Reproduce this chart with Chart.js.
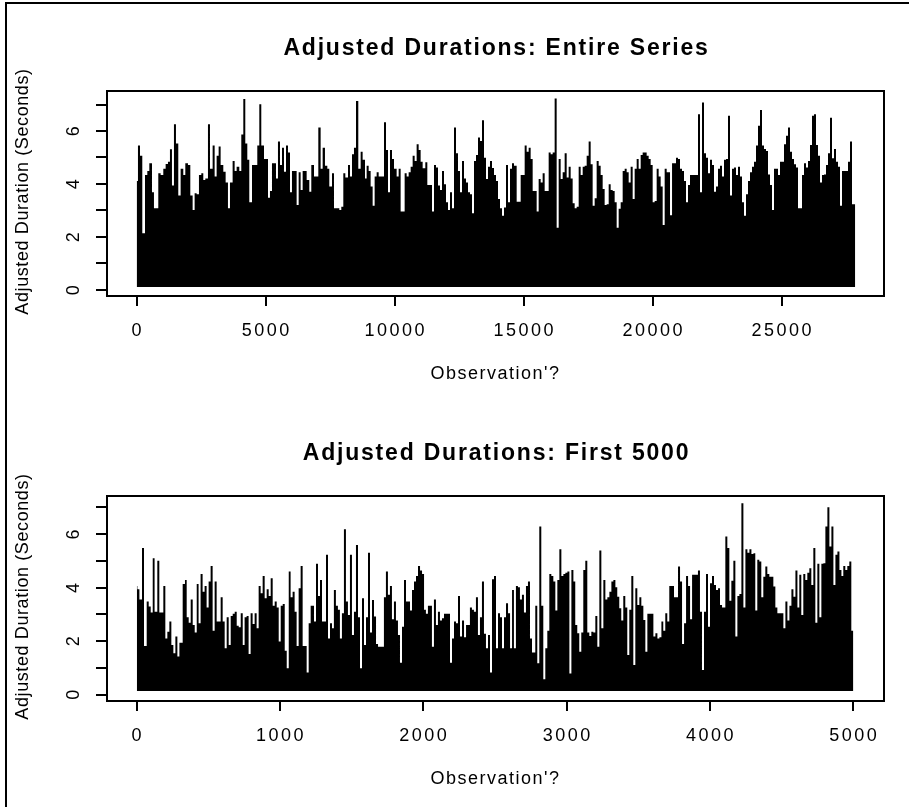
<!DOCTYPE html>
<html>
<head>
<meta charset="utf-8">
<script src="https://cdn.jsdelivr.net/npm/chart.js@4.4.1/dist/chart.umd.min.js"></script>
<style>
  html, body { margin: 0; padding: 0; background: #fff; }
  #wrap { position: relative; width: 909px; height: 807px; overflow: hidden; background: #fff; }
  #frame { position: absolute; left: 5px; top: 2px; width: 920px; height: 820px;
           border-left: 2px solid #000; border-top: 2px solid #000; }
  canvas { position: absolute; left: 0; }
  #c1 { top: 0; }
  #c2 { top: 404px; }
</style>
</head>
<body>
<div id="wrap">
  <div id="frame"></div>
  <canvas id="c1" width="909" height="404"></canvas>
  <canvas id="c2" width="909" height="403"></canvas>
</div>
<script>
// ---- Data (upper envelope of the duration series) ----
const topTitle = "Adjusted Durations: Entire Series";
const bottomTitle = "Adjusted Durations: First 5000";
const xLabel = "Observation'?";
const yLabel = "Adjusted Duration (Seconds)";

const topXTicks = [0, 5000, 10000, 15000, 20000, 25000];
const bottomXTicks = [0, 1000, 2000, 3000, 4000, 5000];
const yTicks = [0, 1, 2, 3, 4, 5, 6, 7];
const yTickLabels = [0, 2, 4, 6];

const topFloor = 0.11;
const bottomFloor = 0.13;

const topObs = [1,50,128,218,322,412,490,593,670,838,929,1032,1123,1213,1290,1368,1445,1523,1613,1704,1807,1885,1988,2079,2169,2246,2324,2414,2505,2582,2660,2763,2841,2944,3022,3099,3177,3254,3358,3448,3538,3616,3719,3797,3874,3978,4055,4133,4210,4288,4365,4469,4675,4753,4830,4934,5089,5166,5244,5399,5476,5554,5632,5709,5787,5864,5942,6019,6200,6278,6355,6433,6588,6691,6768,6872,7040,7130,7208,7298,7389,7466,7570,7647,7854,7931,8009,8087,8190,8267,8345,8422,8500,8590,8681,8758,8849,8913,8991,9068,9146,9223,9301,9379,9585,9663,9740,9818,9895,9973,10076,10154,10231,10386,10464,10541,10619,10696,10774,10851,10929,11006,11084,11187,11265,11446,11523,11601,11678,11756,11833,11911,11988,12066,12143,12221,12298,12376,12453,12531,12609,12686,12764,12841,12919,12996,13074,13151,13229,13306,13384,13461,13539,13616,13694,13772,13849,13927,14004,14082,14159,14237,14314,14392,14469,14547,14624,14728,14883,15038,15115,15193,15270,15348,15503,15580,15658,15735,15813,15968,16045,16123,16200,16278,16356,16433,16511,16588,16666,16743,16821,16898,16976,17053,17131,17208,17286,17363,17441,17518,17596,17673,17751,17828,17906,17983,18061,18138,18216,18294,18371,18449,18526,18604,18681,18759,18836,18914,18991,19069,19146,19224,19301,19379,19456,19534,19611,19766,19844,19921,19999,20076,20154,20231,20309,20387,20464,20542,20671,20750,20904,20981,21059,21136,21214,21291,21369,21446,21756,21834,21911,21989,22066,22144,22221,22299,22376,22454,22531,22609,22687,22764,22842,22919,22997,23074,23152,23229,23307,23384,23462,23539,23617,23694,23772,23849,23927,24004,24082,24159,24237,24314,24392,24469,24547,24624,24702,24857,24935,25090,25167,25245,25322,25400,25477,25555,25632,25787,25865,25942,26020,26097,26175,26252,26330,26407,26485,26563,26640,26718,26795,26873,26950,27028,27105,27183,27260,27338,27570,27648,27725,27850];
const topDur = [4.11,5.45,5.07,2.14,4.34,4.49,4.78,3.69,3.08,4.40,4.34,4.57,4.75,4.84,5.31,3.94,6.25,5.53,3.56,4.57,4.34,4.78,4.72,3.56,3.02,3.65,3.61,4.34,4.40,4.15,4.21,6.25,4.57,5.45,4.28,5.07,5.41,4.72,4.46,4.06,3.08,4.06,4.87,4.49,4.65,4.49,5.87,7.21,5.53,4.91,3.31,4.72,5.45,7.01,5.45,4.94,3.48,3.73,4.78,4.21,5.60,4.72,5.37,4.46,5.45,5.19,3.69,4.49,3.21,4.44,3.77,4.49,4.15,3.71,4.72,4.28,6.13,4.57,5.37,4.69,4.57,3.90,4.40,3.08,3.02,3.14,4.40,4.24,4.72,4.28,5.12,5.37,7.13,4.57,5.22,4.91,4.21,4.69,4.49,3.90,3.18,4.28,4.44,4.28,6.33,5.28,3.69,5.28,4.94,4.57,4.28,4.57,2.96,4.40,4.28,4.44,4.65,5.07,4.87,5.50,5.28,4.84,4.59,4.82,3.96,2.96,4.72,4.62,3.94,3.77,4.49,3.99,3.31,3.02,3.69,3.08,6.13,5.16,4.49,3.69,4.87,4.21,4.06,3.69,3.61,2.89,4.87,5.09,5.75,5.62,6.41,4.99,4.19,4.65,4.87,4.60,4.34,4.11,3.43,3.08,2.80,3.11,4.72,3.31,4.57,4.78,4.69,3.33,4.34,5.45,5.22,5.37,4.94,3.73,2.96,4.19,4.06,4.40,3.73,5.19,5.12,5.19,7.23,2.35,4.94,4.19,4.44,5.16,4.24,4.65,4.21,3.27,3.08,3.14,4.65,4.34,4.65,4.69,5.07,5.60,4.74,3.18,3.46,4.87,4.69,4.34,3.81,3.21,3.23,3.99,3.77,3.73,3.31,2.35,3.06,3.31,4.49,4.57,4.44,4.06,4.65,3.43,4.57,4.94,4.57,5.09,5.19,5.07,4.94,4.72,3.31,3.36,4.57,4.28,3.90,2.45,4.57,4.44,2.82,4.78,4.99,4.94,4.57,4.49,4.11,3.31,3.96,4.34,6.63,3.69,7.08,5.16,4.99,4.40,4.91,4.72,3.71,3.90,4.57,4.69,4.28,4.91,4.94,6.58,3.56,4.57,4.62,4.34,4.65,4.28,3.31,2.80,3.61,4.11,4.44,4.65,4.84,5.45,6.20,6.79,5.45,5.32,5.24,4.36,3.96,3.02,4.57,4.34,4.84,5.50,5.82,6.13,5.22,4.94,4.74,4.62,3.08,4.34,4.78,4.62,4.87,5.47,6.58,6.63,5.47,5.07,4.06,4.34,4.36,4.72,5.16,6.50,4.97,5.32,4.84,4.65,3.18,4.49,4.84,5.60,3.23,3.23];

const bottomObs = [1,5,19,37,51,70,84,98,112,125,144,158,186,200,214,228,242,256,270,284,298,321,337,349,363,377,391,405,419,432,446,460,474,488,502,516,530,544,558,586,600,614,628,642,656,670,684,698,712,726,740,753,767,781,795,809,823,837,851,865,879,893,907,921,935,949,963,977,991,1005,1019,1033,1047,1061,1074,1088,1102,1116,1130,1144,1158,1186,1200,1214,1237,1251,1265,1279,1293,1321,1335,1349,1363,1376,1390,1404,1418,1432,1446,1460,1474,1488,1502,1516,1530,1544,1558,1572,1586,1600,1614,1628,1642,1656,1670,1684,1725,1739,1753,1767,1781,1795,1809,1823,1837,1851,1865,1879,1907,1921,1935,1949,1963,1977,1991,2005,2018,2032,2060,2074,2088,2102,2116,2130,2144,2186,2200,2214,2228,2242,2256,2270,2284,2298,2325,2339,2353,2367,2381,2395,2409,2423,2437,2451,2465,2479,2493,2507,2521,2535,2549,2563,2577,2591,2605,2619,2632,2646,2660,2674,2688,2702,2716,2730,2744,2758,2781,2795,2809,2823,2837,2851,2865,2879,2893,2907,2921,2935,2949,2963,2977,2991,3005,3019,3033,3047,3060,3074,3088,3102,3116,3130,3144,3158,3172,3186,3200,3214,3228,3242,3256,3270,3284,3298,3312,3326,3340,3353,3367,3381,3395,3409,3423,3437,3451,3465,3479,3493,3507,3521,3535,3549,3563,3605,3619,3633,3647,3661,3674,3688,3702,3716,3749,3777,3791,3805,3819,3833,3847,3861,3875,3916,3930,3944,3958,3972,3986,4000,4014,4028,4042,4056,4070,4084,4107,4121,4135,4149,4163,4177,4191,4205,4219,4233,4247,4261,4275,4289,4303,4316,4330,4344,4358,4372,4386,4400,4414,4442,4456,4470,4512,4526,4540,4554,4568,4582,4596,4610,4623,4637,4651,4665,4679,4693,4707,4721,4735,4749,4763,4777,4791,4805,4819,4833,4847,4861,4875,4889,4903,4917,4930,4944,4958,4972,4986,5000];
const bottomDur = [4.06,3.94,3.56,5.48,1.82,3.48,3.29,3.07,5.10,3.10,5.01,3.07,4.06,2.10,2.35,2.73,1.85,1.54,2.17,1.42,1.94,4.14,4.29,2.89,2.69,3.56,2.60,2.32,4.14,2.67,4.51,3.85,4.06,3.26,4.23,4.81,2.39,4.23,2.73,3.64,2.73,1.73,2.89,1.85,2.94,3.02,3.10,2.57,2.52,3.04,1.85,2.89,2.94,1.52,3.04,2.64,3.04,2.48,4.06,3.79,4.44,3.60,3.94,3.69,4.35,3.32,3.48,3.26,1.98,3.32,3.39,1.64,0.98,4.60,3.64,3.85,3.10,1.82,3.98,4.81,1.82,0.82,2.67,3.32,2.73,4.89,3.69,4.29,2.73,5.23,2.10,2.67,2.48,3.91,3.32,3.17,2.10,3.04,6.19,3.48,2.98,5.23,2.23,3.10,5.60,2.89,0.98,3.60,1.85,2.89,5.31,2.32,3.54,2.92,1.89,1.79,3.64,4.60,3.73,4.06,2.82,3.48,2.77,2.23,1.19,2.54,4.29,3.48,3.14,3.91,4.23,4.44,4.81,4.64,4.51,3.17,3.02,3.32,1.79,3.56,2.60,3.10,2.77,2.85,3.02,1.19,2.10,2.73,2.67,3.69,2.17,2.77,2.14,2.60,3.26,3.17,3.10,3.64,2.23,2.89,4.23,2.27,1.73,2.23,0.82,4.31,4.44,1.73,3.04,2.89,1.73,2.89,3.42,3.04,1.73,3.91,1.73,4.06,4.01,3.56,3.73,3.07,4.06,4.23,2.10,1.57,3.32,1.17,6.29,3.32,0.57,1.73,2.39,4.51,4.44,4.23,3.14,4.29,5.44,4.44,4.51,4.56,4.60,0.79,4.66,4.23,2.60,2.29,1.60,2.32,4.66,5.01,2.32,2.19,2.35,2.32,2.94,1.79,5.39,2.48,4.29,3.56,3.64,3.85,4.23,4.29,4.01,3.66,3.23,2.77,3.69,3.26,1.48,3.17,4.44,1.10,3.98,3.35,3.64,3.32,2.79,1.60,3.02,2.17,2.29,2.10,2.14,2.73,2.39,3.04,2.73,4.06,3.64,4.79,4.23,1.89,2.67,4.44,4.06,2.82,4.48,4.64,3.10,0.92,3.10,4.51,2.54,4.16,4.44,4.10,3.91,3.98,3.35,3.26,5.91,5.48,3.51,4.26,5.01,2.17,3.69,3.76,7.16,3.26,5.44,5.31,5.44,5.26,5.29,3.14,5.04,4.98,3.64,4.41,4.79,4.51,4.41,4.04,3.26,3.04,2.48,3.48,2.77,3.32,3.94,3.66,4.64,3.26,4.48,2.98,4.51,4.29,4.56,4.73,4.10,5.48,2.69,4.89,2.89,4.89,4.91,6.29,7.01,5.54,6.29,4.10,5.23,5.35,4.66,4.44,4.81,4.66,4.81,4.98,2.39,2.39];

// ---- R-style axes, box and labels drawn through the chart's own scales ----
const rStyle = {
  id: 'rStyle',
  afterDraw(chart, args, o) {
    const { ctx, chartArea: a, scales: { x, y } } = chart;
    ctx.save();
    ctx.strokeStyle = '#000';
    ctx.fillStyle = '#000';
    ctx.lineWidth = 2;
    ctx.strokeRect(a.left, a.top, a.right - a.left, a.bottom - a.top);
    ctx.beginPath();
    o.yTicks.forEach(v => {
      const py = Math.round(y.getPixelForValue(v));
      ctx.moveTo(a.left - 11, py); ctx.lineTo(a.left, py);
    });
    o.xTicks.forEach(v => {
      const px = Math.round(x.getPixelForValue(v));
      ctx.moveTo(px, a.bottom); ctx.lineTo(px, a.bottom + 10);
    });
    ctx.stroke();

    const cx = (a.left + a.right) / 2;
    const cy = (a.top + a.bottom) / 2;
    ctx.textAlign = 'center';
    ctx.textBaseline = 'middle';

    // x tick labels
    ctx.font = '18px "Liberation Sans", Arial, sans-serif';
    ctx.letterSpacing = '2.5px';
    o.xTicks.forEach(v => {
      ctx.fillText(String(v), x.getPixelForValue(v) + 1, a.bottom + 35);
    });
    // y tick labels (rotated, parallel to axis)
    o.yTickLabels.forEach(v => {
      ctx.save();
      ctx.translate(a.left - 33, y.getPixelForValue(v));
      ctx.rotate(-Math.PI / 2);
      ctx.fillText(String(v), 1, 0);
      ctx.restore();
    });
    // x axis title
    ctx.letterSpacing = '1.5px';
    ctx.fillText(o.xLabel, cx, a.bottom + 78);
    // y axis title
    ctx.letterSpacing = '0.6px';
    ctx.save();
    ctx.translate(23, cy - 2);
    ctx.rotate(-Math.PI / 2);
    ctx.fillText(o.yLabel, 0, 0);
    ctx.restore();
    // main title
    ctx.font = 'bold 23px "Liberation Sans", Arial, sans-serif';
    ctx.letterSpacing = '1.8px';
    ctx.fillText(o.title, cx + 1, a.top - 42);
    ctx.restore();
  }
};

function makeChart(id, obs, dur, floor, xmin, xmax, ymin, ymax, xTicks, title, pad) {
  const pts = obs.map((v, i) => ({ x: v, y: dur[i] }));
  return new Chart(document.getElementById(id), {
    type: 'line',
    data: {
      datasets: [{
        data: pts,
        stepped: true,
        fill: { value: floor },
        backgroundColor: '#000',
        borderColor: '#000',
        borderWidth: 0,
        pointRadius: 0,
        tension: 0
      }]
    },
    options: {
      responsive: false,
      animation: false,
      events: [],
      layout: { padding: pad },
      scales: {
        x: { type: 'linear', min: xmin, max: xmax, display: false },
        y: { type: 'linear', min: ymin, max: ymax, display: false }
      },
      plugins: {
        legend: { display: false },
        tooltip: { enabled: false },
        title: { display: false },
        rStyle: { xTicks: xTicks, yTicks: yTicks, yTickLabels: yTickLabels,
                  title: title, xLabel: xLabel, yLabel: yLabel }
      }
    },
    plugins: [rStyle]
  });
}

makeChart('c1', topObs, topDur, topFloor, -1150, 28965, -0.23, 7.51, topXTicks, topTitle,
          { left: 107, right: 25, top: 91, bottom: 108 });
makeChart('c2', bottomObs, bottomDur, bottomFloor, -207, 5214, -0.243, 7.43, bottomXTicks, bottomTitle,
          { left: 107, right: 25, top: 92, bottom: 106 });
</script>
</body>
</html>
